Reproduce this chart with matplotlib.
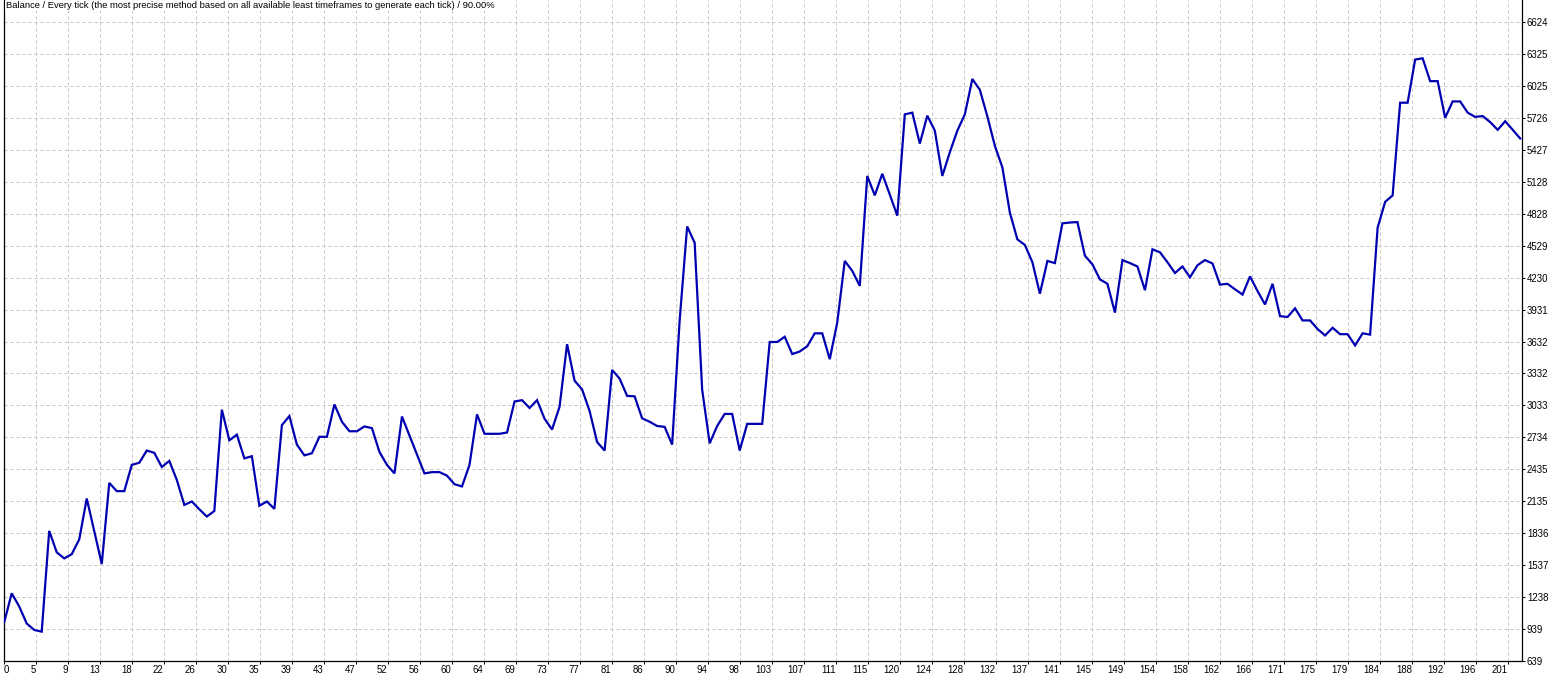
import matplotlib
matplotlib.use("Agg")
import matplotlib.pyplot as plt
import numpy as np

# ---------------- data ----------------
title_text = ("Balance / Every tick (the most precise method based on all available "
              "least timeframes to generate each tick) / 90.00%")

balance = [
    1002, 1273, 1150, 990, 930, 914, 1858, 1657, 1600, 1640,
    1778, 2161, 1854, 1548, 2307, 2230, 2230, 2476, 2496, 2610,
    2589, 2456, 2513, 2335, 2101, 2133, 2060, 1992, 2044, 2993,
    2706, 2759, 2537, 2557, 2093, 2133, 2064, 2848, 2933, 2666,
    2565, 2585, 2739, 2739, 3042, 2880, 2791, 2791, 2836, 2820,
    2597, 2476, 2396, 2929, 2750, 2573, 2396, 2408, 2408, 2375,
    2295, 2274, 2476, 2949, 2767, 2767, 2767, 2779, 3070, 3082,
    3009, 3082, 2908, 2807, 3021, 3607, 3264, 3183, 2981, 2690,
    2610, 3365, 3284, 3122, 3118, 2912, 2880, 2840, 2832, 2666,
    3829, 4709, 4556, 3180, 2678, 2840, 2953, 2953, 2610, 2860,
    2860, 2860, 3627, 3627, 3676, 3514, 3538, 3587, 3708, 3708,
    3466, 3809, 4386, 4293, 4152, 5182, 5000, 5202, 5008, 4810,
    5759, 5775, 5485, 5747, 5606, 5182, 5404, 5606, 5759, 6090,
    5989, 5740, 5464, 5263, 4839, 4588, 4536, 4374, 4079, 4386,
    4366, 4738, 4746, 4750, 4435, 4354, 4213, 4172, 3902, 4394,
    4366, 4334, 4112, 4495, 4467, 4374, 4273, 4334, 4233, 4346,
    4394, 4362, 4164, 4172, 4120, 4071, 4241, 4104, 3978, 4172,
    3869, 3861, 3942, 3829, 3829, 3748, 3688, 3760, 3700, 3700,
    3595, 3708, 3696, 4697, 4939, 5000, 5868, 5868, 6272, 6284,
    6070, 6070, 5727, 5880, 5880, 5775, 5735, 5743, 5686, 5614,
    5695, 5614, 5533,
]

x_tick_labels = ["0", "5", "9", "13", "18", "22", "26", "30", "35", "39", "43", "47",
                 "52", "56", "60", "64", "69", "73", "77", "81", "86", "90", "94", "98",
                 "103", "107", "111", "115", "120", "124", "128", "132", "137", "141",
                 "145", "149", "154", "158", "162", "166", "171", "175", "179", "184",
                 "188", "192", "196", "201"]

y_tick_labels = ["639", "939", "1238", "1537", "1836", "2135", "2435", "2734", "3033",
                 "3332", "3632", "3931", "4230", "4529", "4828", "5128", "5427", "5726",
                 "6025", "6325", "6624"]

# ---------------- layout ----------------
W, H, DPI = 1555, 677, 100
fig = plt.figure(figsize=(W / DPI, H / DPI), dpi=DPI, facecolor="white")

ax_left_px, ax_right_px = 3.7, 1521.7
ax_bottom_px, ax_top_px = 661.0, 0.0  # from top of image
ax = fig.add_axes([ax_left_px / W, (H - ax_bottom_px) / H,
                   (ax_right_px - ax_left_px) / W, (ax_bottom_px - ax_top_px) / H])
ax.set_facecolor("white")

# x scale: pixels per trade index and first point position
px_per_pt = 7.505
first_pt_px = 4.2
grid_px = 32.0
x_min = (ax_left_px - first_pt_px) / px_per_pt
x_max = (ax_right_px - first_pt_px) / px_per_pt
x_grid_step = grid_px / px_per_pt

y_min = 639.0
y_step = 299.25
px_per_val = (len(y_tick_labels) - 1) * y_step / (ax_bottom_px - 22.0)
y_max = y_min + (ax_bottom_px - ax_top_px) * px_per_val

x = np.arange(len(balance))
ax.plot(x, balance, color="#0000b0", lw=1.6, solid_joinstyle="miter", zorder=3)

ax.set_xlim(x_min, x_max)
ax.set_ylim(y_min, y_max)

xt = x_min + np.arange(len(x_tick_labels)) * x_grid_step
yt = y_min + np.arange(len(y_tick_labels)) * y_step

tick_font = dict(family=["Liberation Sans", "DejaVu Sans"], size=6.9)
ax.set_xticks(xt)
ax.set_xticklabels(x_tick_labels, **tick_font)
ax.set_yticks(yt)
ax.set_yticklabels(y_tick_labels, **tick_font)

for i, lab in enumerate(ax.get_xticklabels()):
    lab.set_ha("left" if i == 0 else "right")

ax.yaxis.tick_right()
ax.tick_params(axis="y", direction="out", length=2.2, width=0.72, pad=1.6,
               colors="black")
ax.tick_params(axis="x", direction="out", length=2.2, width=0.72, pad=0.8,
               colors="black")

ax.grid(True, color="#c4c4c4", lw=0.72, linestyle=(0, (3, 3)), zorder=0)
ax.set_axisbelow(True)

for s in ("left", "right", "bottom"):
    ax.spines[s].set_color("black")
    ax.spines[s].set_linewidth(0.9)
ax.spines["top"].set_visible(False)

# title in top-left, fitted to the reference width
t = fig.text(6 / W, 1 - 6 / H, title_text, ha="left", va="center",
             family=["Liberation Sans", "DejaVu Sans"], fontsize=6.5, color="black",
             bbox=dict(facecolor="white", edgecolor="none", pad=0.6), zorder=10)
fig.canvas.draw()
w = t.get_window_extent(renderer=fig.canvas.get_renderer()).width
t.set_fontsize(6.5 * 488.0 / w)

fig.savefig("out.png", dpi=DPI, facecolor="white")
